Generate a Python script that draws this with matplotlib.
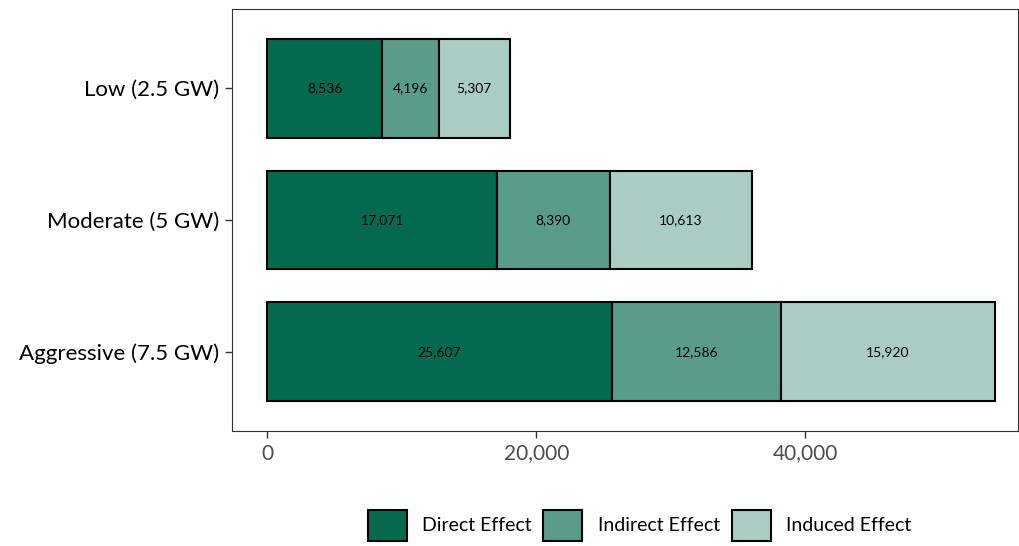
import matplotlib
matplotlib.use("Agg")
import matplotlib.pyplot as plt
from matplotlib.patches import Patch
import numpy as np

scenarios = ["Aggressive (7.5 GW)", "Moderate (5 GW)", "Low (2.5 GW)"]
direct = [25607, 17071, 8536]
indirect = [12586, 8390, 4196]
induced = [15920, 10613, 5307]
effects = ["Direct Effect", "Indirect Effect", "Induced Effect"]
colors = ["#04694E", "#589C89", "#AACDC3"]

plt.rcParams["font.family"] = ["Lato", "DejaVu Sans"]

fig = plt.figure(figsize=(10.2, 5.46), dpi=100)
ax = fig.add_axes([232 / 1020, 115 / 546, 786 / 1020, 422 / 546])

y = np.arange(len(scenarios))
left = np.zeros(len(scenarios))
for name, vals, col in zip(effects, [direct, indirect, induced], colors):
    vals = np.array(vals)
    ax.barh(y, vals, left=left, height=0.75, color=col, edgecolor="black", linewidth=1.5, label=name)
    for yi, l, v in zip(y, left, vals):
        ax.text(l + v / 2, yi, f"{v:,}", ha="center", va="center", fontsize=10, color="black")
    left = left + vals

total = left.max()
ax.set_xlim(-0.0485 * total, total * 1.0315)
ax.set_ylim(-0.6, len(scenarios) - 0.4)
ax.set_yticks(y)
ax.set_yticklabels(scenarios, fontsize=16, color="black")
ax.set_xticks([0, 20000, 40000])
ax.set_xticklabels(["0", "20,000", "40,000"], fontsize=15, color="#4D4D4D")
ax.tick_params(axis="both", length=5, width=1, color="#333333")
ax.tick_params(axis="x", pad=4)
ax.tick_params(axis="y", pad=4)
for s in ax.spines.values():
    s.set_color("#333333")
    s.set_linewidth(0.8)

handles = [Patch(facecolor=c, edgecolor="black", linewidth=1.5, label=e) for c, e in zip(colors, effects)]
fig.legend(handles=handles, loc="center", bbox_to_anchor=(0.627, 0.038), ncol=3, frameon=False,
           fontsize=14, handlelength=2.0, handleheight=2.1, columnspacing=0.6, handletextpad=0.8)

fig.savefig("out.png", dpi=100)
